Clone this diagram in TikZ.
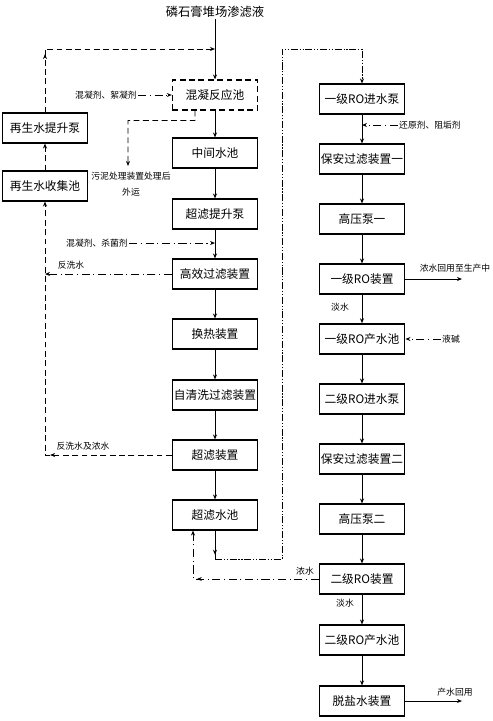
\documentclass[tikz,border=0pt]{standalone}
\usepackage{fontspec}
\setmainfont{Noto Sans CJK SC}
\usetikzlibrary{arrows.meta,decorations.markings}
\tikzset{
  box/.style={draw, line width=0.9pt, minimum width=2.56cm, minimum height=0.9cm,
              inner sep=0.5pt, font=\fontsize{10}{12}\selectfont},
  lbl/.style={font=\fontsize{7.5}{14}\selectfont, inner sep=1pt},
  ttl/.style={font=\fontsize{10.5}{12}\selectfont, inner sep=1pt},
  flw/.style={line width=0.8pt, -{Stealth[length=1.5mm, width=1.2mm]}},
  dsh/.style={flw, dash pattern=on 5pt off 3pt},
  ddot/.style={flw, dash pattern=on 7pt off 3pt on 1pt off 3pt},
  dddot/.style={flw, dash pattern=on 6pt off 1.5pt on 1pt off 1.5pt on 1pt off 1.5pt},
  midarr/.style={postaction={decorate, decoration={markings,
      mark=at position #1 with {\arrow{Stealth[length=1.5mm, width=1.2mm]}}}}},
}

\begin{document}
\begin{tikzpicture}[x=0.03cm, y=-0.03cm]
  \useasboundingbox (0,0) rectangle (492,721);

  \node[ttl] (src) at (215,12) {磷石膏堆场渗滤液};
  \node[box, dash pattern=on 5pt off 3pt] (coag) at (215,95) {混凝反应池};
  \node[box] (midp) at (215,153) {中间水池};
  \node[box] (ufpump) at (215,214) {超滤提升泵};
  \node[box] (hef) at (215,274) {高效过滤装置};
  \node[box] (heat) at (215,334) {换热装置};
  \node[box] (scf) at (215,395) {自清洗过滤装置};
  \node[box] (uf) at (215,455) {超滤装置};
  \node[box] (ufpool) at (215,515) {超滤水池};

  \node[box] (regpump) at (45,128) {再生水提升泵};
  \node[box] (regpool) at (45,186) {再生水收集池};

  \node[box] (ro1pump) at (362,99) {一级RO进水泵};
  \node[box] (sec1) at (362,159) {保安过滤装置一};
  \node[box] (hp1) at (362,219) {高压泵一};
  \node[box] (ro1) at (362,279) {一级RO装置};
  \node[box, line width=1.3pt] (ro1pool) at (362,339) {一级RO产水池};
  \node[box] (ro2pump) at (362,399) {二级RO进水泵};
  \node[box] (sec2) at (362,459) {保安过滤装置二};
  \node[box] (hp2) at (362,519) {高压泵二};
  \node[box] (ro2) at (362,579) {二级RO装置};
  \node[box] (ro2pool) at (362,640) {二级RO产水池};
  \node[box] (desal) at (362,701) {脱盐水装置};

  \node[lbl] (addA) at (106,95) {混凝剂、絮凝剂};
  \node[lbl, align=center] (sludge) at (131,184) {污泥处理装置处理后\\外运};
  \node[lbl] (addB) at (97,243) {混凝剂、杀菌剂};
  \node[lbl] (bwA) at (71,265) {反洗水};
  \node[lbl] (bwB) at (83,446) {反洗水及浓水};
  \node[lbl] (addC) at (430,125) {还原剂、阻垢剂};
  \node[lbl] (reuseA) at (455,268) {浓水回用至生产中};
  \node[lbl] (freshA) at (340,307) {淡水};
  \node[lbl] (lye) at (451,339) {液碱};
  \node[lbl] (concB) at (305,571) {浓水};
  \node[lbl] (freshB) at (345,603) {淡水};
  \node[lbl] (reuseB) at (455,692) {产水回用};

  \coordinate (jtop) at (215,49);
  \coordinate (jadd) at (215,243);
  \coordinate (jbw) at (45,274);
  \coordinate (jpool) at (215,559);
  \coordinate (jro) at (362,125);
  \coordinate (slend) at (128,166);
  \coordinate (outA) at (462,279);
  \coordinate (outB) at (462,701);

  \draw[flw] (src) -- (coag);
  \foreach \a/\b in {coag/midp, midp/ufpump, ufpump/hef, hef/heat, heat/scf, scf/uf,
                     uf/ufpool, ro1pump/sec1, sec1/hp1, hp1/ro1, ro1/ro1pool,
                     ro1pool/ro2pump, ro2pump/sec2, sec2/hp2, hp2/ro2, ro2/ro2pool,
                     ro2pool/desal}
    \draw[flw] (\a) -- (\b);

  \draw[ddot] (addA) -- (coag);
  \draw[dsh] ([xshift=-0.6cm]coag.south) |- ++(-67,10) -- (slend);
  \draw[ddot] (addB) -- (jadd);
  \draw[ddot] (hef.west) -- (jbw);
  \draw[dsh, midarr=0.32] (uf.west) -| (regpool.south);
  \draw[dsh] (regpool) -- (regpump);
  \draw[dsh, midarr=0.25] (regpump.north) |- (jtop);

  \draw[line width=0.8pt, midarr=0.85] (ufpool.south) -- (jpool);
  \draw[dddot] (jpool) -| (282,49) -| (ro1pump.north);
  \draw[ddot, midarr=0.7] (ro2.west) -| ([xshift=-0.66cm]ufpool.south);

  \draw[ddot] (addC) -- (jro);
  \draw[flw] (ro1) -- (outA);
  \draw[ddot] (lye) -- (ro1pool);
  \draw[flw] (desal) -- (outB);
\end{tikzpicture}
\end{document}
